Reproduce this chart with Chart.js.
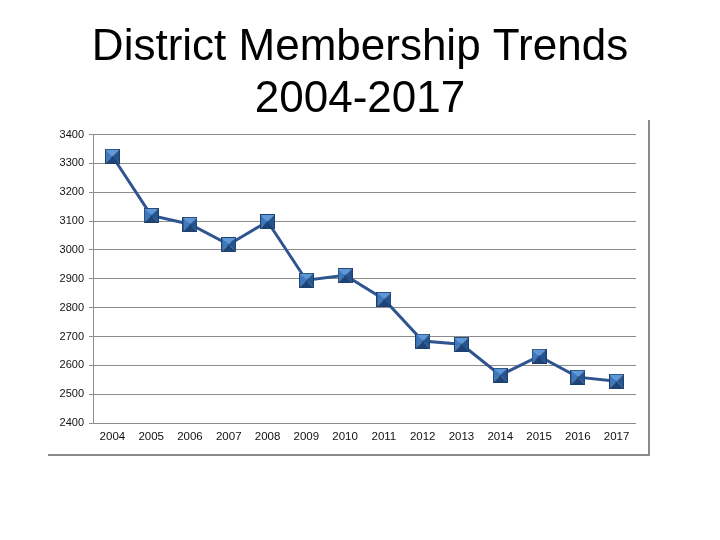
<!DOCTYPE html>
<html>
<head>
<meta charset="utf-8">
<script src="https://cdn.jsdelivr.net/npm/chart.js@4/dist/chart.umd.min.js"></script>
<style>
  html, body { margin: 0; padding: 0; background: #fff; }
  #wrap { position: relative; width: 720px; height: 540px; }
  #frame {
    position: absolute; left: 48px; top: 120px; width: 600px; height: 334px;
    border-right: 2px solid #8a8a8a; border-bottom: 2px solid #8a8a8a;
    pointer-events: none;
  }
</style>
</head>
<body>
<div id="wrap">
  <canvas id="chartMembresia" width="720" height="540"></canvas>
  <div id="frame"></div>
</div>
<script>
const anios = ['2004','2005','2006','2007','2008','2009','2010','2011','2012','2013','2014','2015','2016','2017']
const miembros = [3325, 3120, 3089, 3019, 3099, 2895, 2912, 2829, 2684, 2673, 2566, 2632, 2559, 2545]
const tituloLineas = ['District Membership Trends', '2004-2017']
const yMin = 2400
const yMax = 3400
const yPaso = 100

// marcador cuadrado con efecto de bisel
const crearMarcador = () => {
    const s = 15
    const c = document.createElement('canvas')
    c.width = s
    c.height = s
    const g = c.getContext('2d')
    const m = s / 2
    const tri = (pts, color) => {
        g.beginPath()
        g.moveTo(pts[0][0], pts[0][1])
        g.lineTo(pts[1][0], pts[1][1])
        g.lineTo(pts[2][0], pts[2][1])
        g.closePath()
        g.fillStyle = color
        g.fill()
    }
    tri([[0,0],[s,0],[m,m]], '#5f98d6')
    tri([[0,0],[0,s],[m,m]], '#3f78bd')
    tri([[s,0],[s,s],[m,m]], '#25558f')
    tri([[0,s],[s,s],[m,m]], '#1d4478')
    g.strokeStyle = '#1f3f6e'
    g.lineWidth = 1
    g.strokeRect(0.5, 0.5, s - 1, s - 1)
    return c
}

const canvas = document.getElementById('chartMembresia')
const context = canvas.getContext('2d')

const chartMembresia = new Chart(context, {
    type : 'line',
    data : {
        labels : anios,
        datasets : [
            {
                label : 'Membership',
                data : miembros,
                borderColor : '#2f5591',
                borderWidth : 3,
                tension : 0,
                pointStyle : crearMarcador(),
                pointRadius : 7,
                pointHoverRadius : 7
            }
        ]
    },
    options : {
        responsive : false,
        animation : false,
        layout : {
            padding : { left : 48, right : 48, top : 0, bottom : 0 }
        },
        plugins : {
            legend : { display : false },
            tooltip : { enabled : false },
            title : {
                display : true,
                text : tituloLineas,
                color : '#000',
                font : { family : "'Liberation Sans', Arial, sans-serif", size : 44, weight : 'normal', lineHeight : 1.2 },
                padding : { top : 21, bottom : 8 }
            }
        },
        scales : {
            x : {
                offset : true,
                grid : { display : false, drawTicks : false },
                border : { display : false },
                ticks : {
                    color : '#111',
                    padding : 7,
                    maxRotation : 0,
                    autoSkip : false,
                    font : { family : "'Liberation Sans', Arial, sans-serif", size : 11.5 }
                },
                afterFit : (scale) => { scale.height = 117 }
            },
            y : {
                min : yMin,
                max : yMax,
                grid : { color : '#8c8c8c', lineWidth : 1, tickLength : 4, tickColor : '#8c8c8c' },
                border : { display : true, color : '#8c8c8c', width : 1 },
                ticks : {
                    stepSize : yPaso,
                    color : '#111',
                    padding : 5,
                    font : { family : "'Liberation Sans', Arial, sans-serif", size : 11 },
                    callback : (valor) => String(valor)
                },
                afterFit : (scale) => { scale.width = 45 }
            },
            // eje vacio a la derecha, solo para dejar el margen
            yDer : {
                position : 'right',
                min : yMin,
                max : yMax,
                grid : { display : false, drawTicks : false },
                border : { display : false },
                ticks : { display : false },
                afterFit : (scale) => { scale.width = 36 }
            }
        }
    }
})
</script>
</body>
</html>
